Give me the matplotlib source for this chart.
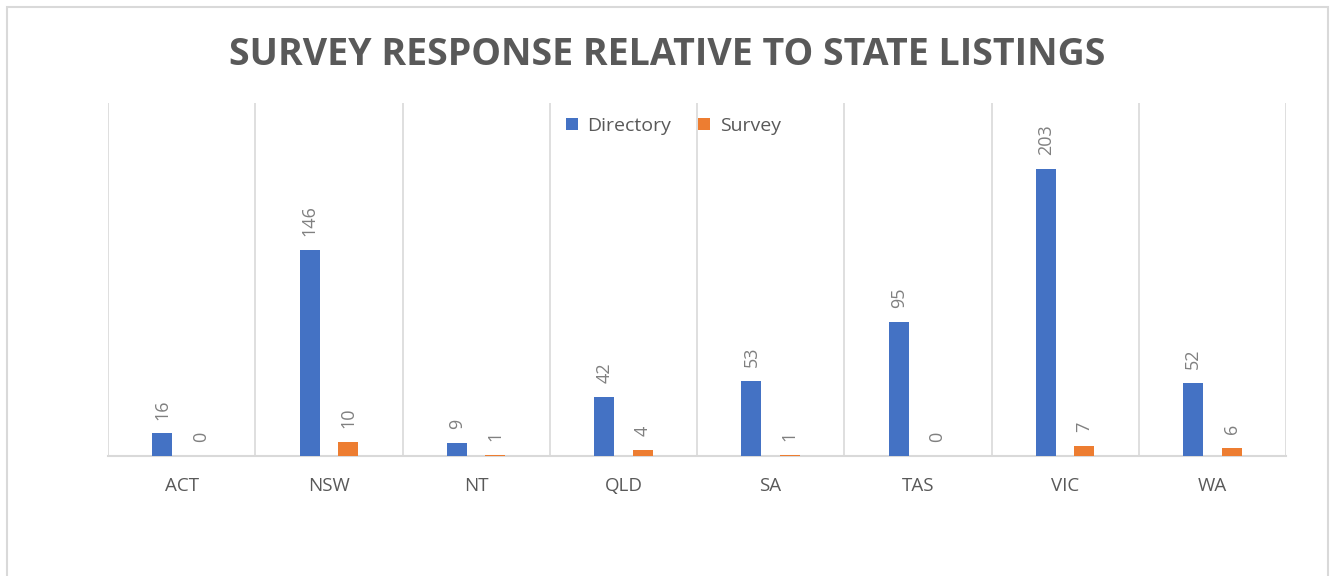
import matplotlib.pyplot as plt
import matplotlib.patches as patches
import numpy as np

states = ['ACT', 'NSW', 'NT', 'QLD', 'SA', 'TAS', 'VIC', 'WA']
directory = [16, 146, 9, 42, 53, 95, 203, 52]
survey = [0, 10, 1, 4, 1, 0, 7, 6]

blue = '#4472C4'
orange = '#ED7D31'
grey_txt = '#595959'
grid_col = '#D9D9D9'

plt.rcParams['font.family'] = ['Open Sans', 'DejaVu Sans']

fig = plt.figure(figsize=(13.35, 5.76), dpi=100)
ax = fig.add_axes([108/1335, 120/576, (1286-108)/1335, (456-103)/576])

# outer chart frame
fig.patches.append(patches.Rectangle((7/1335, -0.05), (1328-7)/1335, 1.05-7/576,
                                     transform=fig.transFigure, fill=False,
                                     edgecolor='#D9D9D9', linewidth=1.5))

x = np.arange(len(states))
w = 0.136
off = 0.13
b1 = ax.bar(x - off, directory, w, color=blue, label='Directory', zorder=3)
b2 = ax.bar(x + off, survey, w, color=orange, label='Survey', zorder=3)

for bars, vals in ((b1, directory), (b2, survey)):
    for r, v in zip(bars, vals):
        ax.annotate(str(v), (r.get_x() + r.get_width()/2, v), xytext=(0, 10),
                    textcoords='offset points', rotation=90, ha='center', va='bottom',
                    fontsize=13, color='#808080')

ax.set_xlim(-0.5, len(states) - 0.5)
ax.set_ylim(0, 250)
for b in np.arange(-0.5, len(states), 1.0):
    ax.axvline(b, color=grid_col, linewidth=1.2, zorder=1)

for s in ['top', 'right', 'left']:
    ax.spines[s].set_visible(False)
ax.spines['bottom'].set_color(grid_col)
ax.spines['bottom'].set_linewidth(1.5)
ax.set_yticks([])
ax.set_xticks(x)
ax.set_xticklabels(states, fontsize=13.5, color=grey_txt)
ax.tick_params(axis='x', length=0, pad=15)

fig.text(0.5, 1 - 55/576, 'SURVEY RESPONSE RELATIVE TO STATE LISTINGS', ha='center', va='center',
         fontsize=27, fontweight='bold', color=grey_txt)

ax.legend(loc='upper center', bbox_to_anchor=(0.48, 1.01), ncol=2, frameon=False,
          fontsize=14, handlelength=0.6, handleheight=0.6, handletextpad=0.5,
          columnspacing=1.4, labelcolor=grey_txt)

fig.savefig('out.png', dpi=100, facecolor='white')
